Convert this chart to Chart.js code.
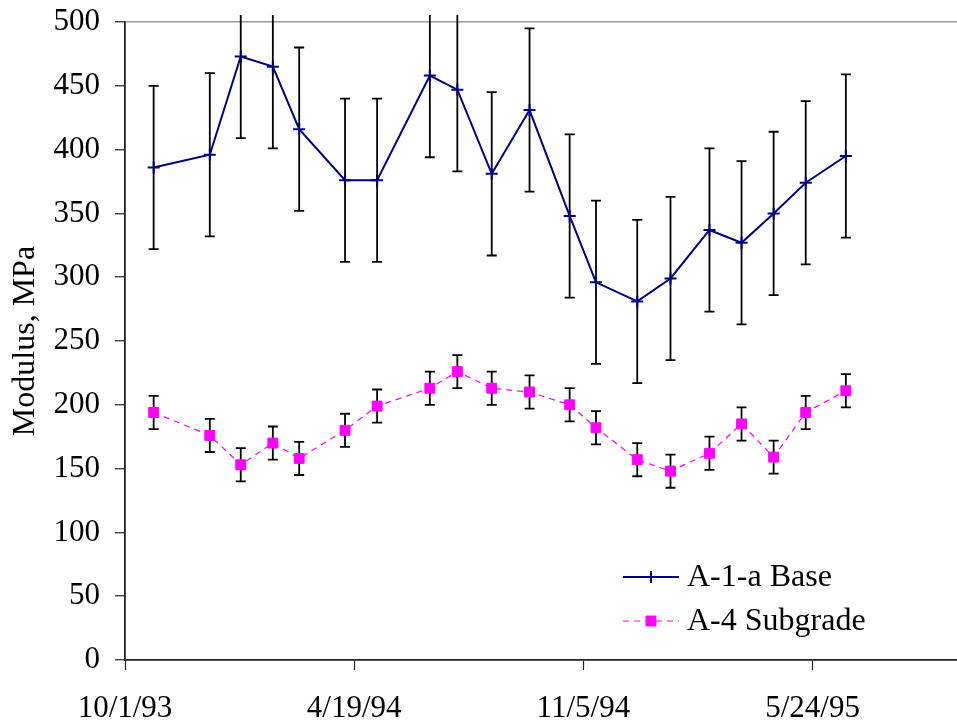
<!DOCTYPE html>
<html>
<head>
<meta charset="utf-8">
<script src="https://cdn.jsdelivr.net/npm/chart.js@4/dist/chart.umd.min.js"></script>
<style>
  html, body { margin: 0; padding: 0; background: #fff; }
  #wrap { width: 957px; height: 728px; }
</style>
</head>
<body>
<div id="wrap"><canvas id="chart"></canvas></div>
<script>
const sampleDates = ['10/26/93', '12/14/93', '1/10/94', '2/7/94', '3/2/94', '4/11/94', '5/9/94',
  '6/24/94', '7/18/94', '8/17/94', '9/19/94', '10/24/94', '11/16/94', '12/22/94', '1/20/95',
  '2/23/95', '3/23/95', '4/20/95', '5/18/95', '6/22/95'];
const baseValues = [386, 396, 473, 465, 416, 376, 376, 458, 447, 381, 431, 348, 296, 281, 299, 337, 327, 350, 374, 395];
const baseErr = [64, 64, 64, 64, 64, 64, 64, 64, 64, 64, 64, 64, 64, 64, 64, 64, 64, 64, 64, 64];
const subValues = [194, 176, 153, 170, 158, 180, 199, 213, 226, 213, 210, 200, 182, 157, 148, 162, 185, 159, 194, 211];
const subErr = [13, 13, 13, 13, 13, 13, 13, 13, 13, 13, 13, 13, 13, 13, 13, 13, 13, 13, 13, 13];
const tickDates = ['10/1/93', '4/19/94', '11/5/94', '5/24/95'];
const yTicks = [0, 50, 100, 150, 200, 250, 300, 350, 400, 450, 500];

const DAY = 86400000;
function toDate(s) {
  const [m, d, y] = s.split('/').map(Number);
  return Date.UTC(1900 + y, m - 1, d);
}
const origin = toDate(tickDates[0]);
const dayOf = s => Math.round((toDate(s) - origin) / DAY);
const tickDays = tickDates.map(dayOf);
const labelFor = {};
tickDates.forEach((s, i) => { labelFor[tickDays[i]] = s; });

const basePts = sampleDates.map((s, i) => ({ x: dayOf(s), y: baseValues[i] }));
const subPts = sampleDates.map((s, i) => ({ x: dayOf(s), y: subValues[i] }));
const errs = [baseErr, subErr];

const FONT = "'Liberation Serif', 'Times New Roman', serif";

const errorBars = {
  id: 'errorBars',
  beforeDatasetsDraw(chart) {
    const { ctx, chartArea, scales: { x, y } } = chart;
    ctx.save();
    ctx.strokeStyle = '#000';
    ctx.lineWidth = 1.8;
    chart.data.datasets.forEach((ds, di) => {
      ds.data.forEach((p, i) => {
        const px = x.getPixelForValue(p.x);
        const top = y.getPixelForValue(p.y + errs[di][i]);
        const bot = y.getPixelForValue(p.y - errs[di][i]);
        const limit = chartArea.top - 7;
        ctx.beginPath();
        ctx.moveTo(px, Math.max(top, limit));
        ctx.lineTo(px, bot);
        if (top >= limit) { ctx.moveTo(px - 5, top); ctx.lineTo(px + 5, top); }
        ctx.moveTo(px - 5, bot); ctx.lineTo(px + 5, bot);
        ctx.stroke();
      });
    });
    ctx.restore();
  }
};

const insideLegend = {
  id: 'insideLegend',
  afterDraw(chart) {
    const { ctx } = chart;
    const rows = [577, 621];
    ctx.save();
    ctx.font = '32px ' + FONT;
    ctx.textBaseline = 'middle';
    chart.data.datasets.forEach((ds, i) => {
      const yy = rows[i];
      ctx.strokeStyle = ds.borderColor;
      ctx.fillStyle = ds.backgroundColor;
      ctx.lineWidth = ds.borderWidth;
      ctx.setLineDash(ds.borderDash || []);
      ctx.beginPath();
      ctx.moveTo(623, yy);
      ctx.lineTo(679, yy);
      ctx.stroke();
      ctx.setLineDash([]);
      ctx.lineWidth = ds.pointBorderWidth || 1;
      Chart.helpers.drawPoint(ctx, {
        pointStyle: ds.pointStyle, radius: ds.pointRadius, borderWidth: ds.pointBorderWidth || 1
      }, 651, yy);
      ctx.fillStyle = '#000';
      ctx.fillText(ds.label, 687, yy + 1);
    });
    ctx.restore();
  }
};

function noPad(s) {
  s.paddingLeft = 0; s.paddingRight = 0; s.paddingTop = 0; s.paddingBottom = 0;
}

new Chart(document.getElementById('chart'), {
  type: 'line',
  data: {
    datasets: [{
      label: 'A-1-a Base',
      data: basePts,
      borderColor: '#000080',
      backgroundColor: '#000080',
      borderWidth: 2,
      pointStyle: 'cross',
      pointRadius: 6,
      pointBorderWidth: 2,
      tension: 0
    }, {
      label: 'A-4 Subgrade',
      data: subPts,
      borderColor: '#ff00ff',
      backgroundColor: '#ff00ff',
      borderWidth: 1.2,
      borderDash: [6, 5],
      pointStyle: 'rect',
      pointRadius: 7,
      pointBorderWidth: 1,
      tension: 0
    }]
  },
  options: {
    responsive: true,
    maintainAspectRatio: false,
    animation: false,
    layout: { autoPadding: false, padding: { top: 22, right: 0, left: 0, bottom: 0 } },
    plugins: { legend: { display: false }, tooltip: { enabled: false } },
    scales: {
      x: {
        type: 'linear',
        min: 0,
        max: 726,
        afterBuildTicks: s => { s.ticks = tickDays.map(v => ({ value: v })); },
        afterFit: s => { s.height = 68; noPad(s); },
        border: { color: '#222', width: 1.8 },
        grid: { drawOnChartArea: false, tickLength: 10, tickColor: '#222', tickWidth: 1.2 },
        ticks: {
          color: '#000', font: { family: FONT, size: 31 }, padding: 20,
          maxRotation: 0, autoSkip: false,
          callback: v => labelFor[v] || ''
        }
      },
      y: {
        min: 0,
        max: 500,
        afterBuildTicks: s => { s.ticks = yTicks.map(v => ({ value: v })); },
        afterFit: s => { s.width = 125; noPad(s); },
        border: { color: '#222', width: 1.8 },
        grid: {
          color: c => c.tick && c.tick.value === 500 ? '#999' : 'rgba(0,0,0,0)',
          lineWidth: 1.5, tickLength: 10, tickColor: '#222', tickWidth: 1.2
        },
        ticks: { color: '#000', font: { family: FONT, size: 31 }, padding: 15 },
        title: {
          display: true, text: 'Modulus, MPa', color: '#000',
          font: { family: FONT, size: 32 }, padding: { top: 6, bottom: 4 }
        }
      }
    }
  },
  plugins: [errorBars, insideLegend]
});
</script>
</body>
</html>
